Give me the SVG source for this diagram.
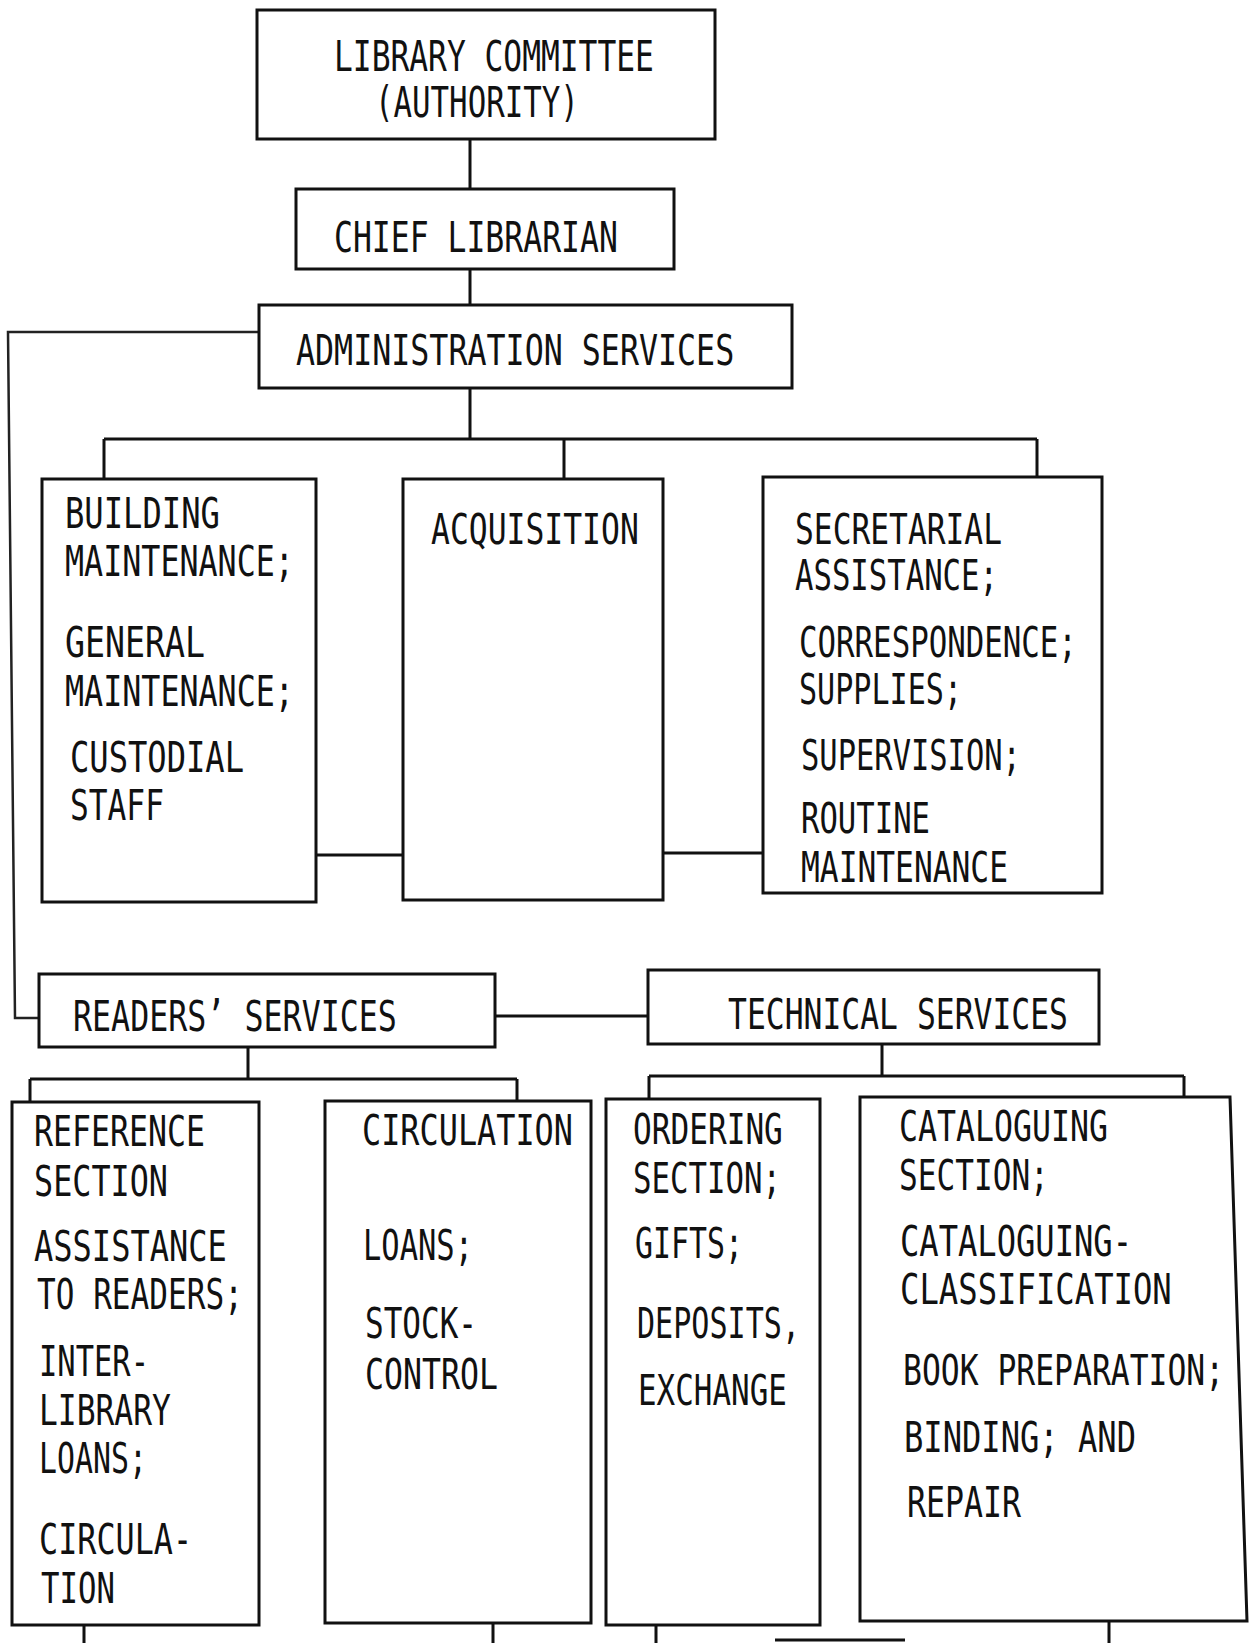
<svg xmlns="http://www.w3.org/2000/svg" width="1252" height="1643" viewBox="0 0 1252 1643">
  <style>
    .box { fill: none; stroke: #111; stroke-width: 3; }
    .ln { fill: none; stroke: #111; stroke-width: 3; }
    .ln-thin { fill: none; stroke: #222; stroke-width: 2.5; }
    text { font-family: "DejaVu Sans Mono", "Liberation Mono", monospace; font-size: 43px; fill: #111; }
  </style>
  <rect x="0" y="0" width="1252" height="1643" fill="#ffffff"/>

  <!-- connectors -->
  <g id="connectors">
    <path class="ln" d="M470 139 V189"/>
    <path class="ln" d="M470 269 V305"/>
    <path class="ln" d="M470 388 V439 M104 439 H1037 M104 439 V479 M564 439 V479 M1037 439 V477"/>
    <path class="ln" d="M316 855 H403 M663 853 H763"/>
    <path class="ln-thin" d="M259 332 H8 L15 1018 H39"/>
    <path class="ln" d="M495 1016 H648"/>
    <path class="ln" d="M248 1047 V1079 M30 1079 H517 M30 1079 V1102 M517 1079 V1101"/>
    <path class="ln" d="M882 1044 V1076 M649 1076 H1184 M649 1076 V1099 M1184 1076 V1097"/>
    <path class="ln" d="M84 1625 V1643 M493 1623 V1643 M656 1625 V1643 M1109 1622 V1643"/>
    <path class="ln" d="M775 1640 H905" stroke="#555"/>
  </g>

  <!-- labels are condensed horizontally from their baseline origin -->
  <g id="library-committee">
    <rect class="box" x="257" y="10" width="458" height="129"/>
    <text transform="translate(334 71) scale(0.727 1)">LIBRARY COMMITTEE</text>
    <text transform="translate(375 117) scale(0.716 1)">(AUTHORITY)</text>
  </g>

  <g id="chief-librarian">
    <rect class="box" x="296" y="189" width="378" height="80"/>
    <text transform="translate(334 252) scale(0.731 1)">CHIEF LIBRARIAN</text>
  </g>

  <g id="administration-services">
    <rect class="box" x="259" y="305" width="533" height="83"/>
    <text transform="translate(296 365) scale(0.736 1)">ADMINISTRATION SERVICES</text>
  </g>

  <g id="building-maintenance">
    <rect class="box" x="42" y="479" width="274" height="423"/>
    <text transform="translate(65 528) scale(0.748 1)">BUILDING</text>
    <text transform="translate(65 576) scale(0.737 1)">MAINTENANCE;</text>
    <text transform="translate(65 657) scale(0.773 1)">GENERAL</text>
    <text transform="translate(65 706) scale(0.737 1)">MAINTENANCE;</text>
    <text transform="translate(70 772) scale(0.747 1)">CUSTODIAL</text>
    <text transform="translate(70 820) scale(0.726 1)">STAFF</text>
  </g>

  <g id="acquisition">
    <rect class="box" x="403" y="479" width="260" height="421"/>
    <text transform="translate(431 544) scale(0.730 1)">ACQUISITION</text>
  </g>

  <g id="secretarial-assistance">
    <rect class="box" x="763" y="477" width="339" height="416"/>
    <text transform="translate(795 544) scale(0.727 1)">SECRETARIAL</text>
    <text transform="translate(795 590) scale(0.713 1)">ASSISTANCE;</text>
    <text transform="translate(799 657) scale(0.716 1)">CORRESPONDENCE;</text>
    <text transform="translate(799 704) scale(0.700 1)">SUPPLIES;</text>
    <text transform="translate(801 770) scale(0.708 1)">SUPERVISION;</text>
    <text transform="translate(801 833) scale(0.712 1)">ROUTINE</text>
    <text transform="translate(801 882) scale(0.727 1)">MAINTENANCE</text>
  </g>

  <g id="readers-services">
    <rect class="box" x="39" y="974" width="456" height="73"/>
    <text transform="translate(73 1031) scale(0.736 1)">READERS’ SERVICES</text>
  </g>

  <g id="technical-services">
    <rect class="box" x="648" y="970" width="451" height="74"/>
    <text transform="translate(728 1029) scale(0.730 1)">TECHNICAL SERVICES</text>
  </g>

  <g id="reference-section">
    <rect class="box" x="12" y="1102" width="247" height="523"/>
    <text transform="translate(34 1146) scale(0.734 1)">REFERENCE</text>
    <text transform="translate(34 1196) scale(0.739 1)">SECTION</text>
    <text transform="translate(34 1261) scale(0.745 1)">ASSISTANCE</text>
    <text transform="translate(37 1309) scale(0.723 1)">TO READERS;</text>
    <text transform="translate(39 1376) scale(0.708 1)">INTER-</text>
    <text transform="translate(39 1425) scale(0.728 1)">LIBRARY</text>
    <text transform="translate(39 1473) scale(0.695 1)">LOANS;</text>
    <text transform="translate(39 1554) scale(0.739 1)">CIRCULA-</text>
    <text transform="translate(41 1603) scale(0.714 1)">TION</text>
  </g>

  <g id="circulation">
    <rect class="box" x="325" y="1101" width="266" height="522"/>
    <text transform="translate(362 1145) scale(0.741 1)">CIRCULATION</text>
    <text transform="translate(363 1260) scale(0.708 1)">LOANS;</text>
    <text transform="translate(365 1338) scale(0.721 1)">STOCK-</text>
    <text transform="translate(365 1389) scale(0.734 1)">CONTROL</text>
  </g>

  <g id="ordering-section">
    <rect class="box" x="606" y="1099" width="214" height="526"/>
    <text transform="translate(633 1144) scale(0.724 1)">ORDERING</text>
    <text transform="translate(633 1193) scale(0.715 1)">SECTION;</text>
    <text transform="translate(635 1258) scale(0.695 1)">GIFTS;</text>
    <text transform="translate(637 1338) scale(0.700 1)">DEPOSITS,</text>
    <text transform="translate(638 1405) scale(0.719 1)">EXCHANGE</text>
  </g>

  <g id="cataloguing-section">
    <path class="box" d="M860 1097 H1230 L1247 1621 H860 Z"/>
    <text transform="translate(899 1141) scale(0.734 1)">CATALOGUING</text>
    <text transform="translate(899 1190) scale(0.724 1)">SECTION;</text>
    <text transform="translate(900 1256) scale(0.747 1)">CATALOGUING-</text>
    <text transform="translate(900 1304) scale(0.750 1)">CLASSIFICATION</text>
    <text transform="translate(903 1385) scale(0.730 1)">BOOK PREPARATION;</text>
    <text transform="translate(904 1452) scale(0.747 1)">BINDING; AND</text>
    <text transform="translate(907 1517) scale(0.734 1)">REPAIR</text>
  </g>
</svg>
